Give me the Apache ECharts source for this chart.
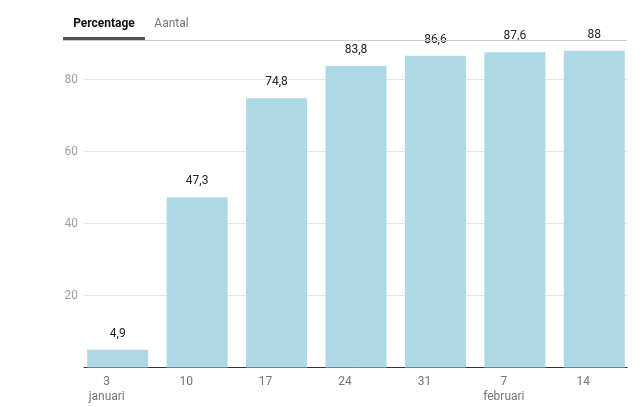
<!DOCTYPE html>
<html><head><meta charset="utf-8">
<script src="https://cdn.jsdelivr.net/npm/echarts@6/dist/echarts.min.js"></script>
<style>html,body{margin:0;padding:0;background:#fff}#c{width:643px;height:407px}</style>
</head><body><div id="c"></div>
<script>
const categories = ['3\njanuari', '10', '17', '24', '31', '7\nfebruari', '14'];
const values = [4.9, 47.3, 74.8, 83.8, 86.6, 87.6, 88];
const yTicks = [0, 20, 40, 60, 80];
const tabs = ['Percentage', 'Aantal'];

const chart = echarts.init(document.getElementById('c'), null, {renderer: 'canvas'});
const font = 'Roboto, "Noto Sans", sans-serif';
chart.setOption({
  animation: false,
  textStyle: {fontFamily: font},
  grid: [
    {left: 84, right: 16, top: 40, bottom: 39.5},
    {left: 78, right: 9, top: 40, bottom: 39.5}
  ],
  xAxis: [
    {gridIndex: 0, type: 'category', data: categories, axisLine: {lineStyle: {color: '#333', width: 1}},
     axisTick: {show: false}, axisLabel: {show: false}},
    {gridIndex: 1, type: 'category', data: categories, axisLine: {show: false}, axisTick: {show: false},
     axisLabel: {color: '#757575', fontSize: 12, fontFamily: font, lineHeight: 15, margin: 7,
       padding: [0, 22, 0, 0]}}
  ],
  yAxis: [
    {gridIndex: 0, type: 'value', min: 0, max: 91, interval: 20,
     axisLine: {show: false}, axisTick: {show: false},
     axisLabel: {color: '#9e9e9e', fontSize: 12, fontFamily: font, margin: 6, showMaxLabel: false,
       formatter: v => (yTicks.indexOf(v) > 0 ? String(v) : '')},
     splitLine: {lineStyle: {color: ['#e6e6e6', '#e6e6e6', '#e6e6e6', '#e6e6e6', '#e6e6e6', 'rgba(0,0,0,0)'], width: 1}}},
    {gridIndex: 1, type: 'value', min: 0, max: 91, interval: 20, show: false, splitLine: {show: false}}
  ],
  series: [{
    type: 'bar', xAxisIndex: 1, yAxisIndex: 1, data: values, barWidth: 61,
    itemStyle: {color: '#add8e6'},
    label: {show: true, position: 'top', distance: 10, color: '#222', fontSize: 12, fontFamily: font,
      formatter: p => String(p.value).replace('.', ',')}
  }],
  graphic: [
    {type: 'rect', shape: {x: 63, y: 40, width: 564, height: 1}, style: {fill: '#cccccc'}, z: 10},
    {type: 'rect', shape: {x: 63, y: 37, width: 82, height: 3}, style: {fill: '#555555'}, z: 11},
    {type: 'text', x: 104, y: 24, style: {text: tabs[0], fill: '#111', font: 'bold 12px ' + font,
      textAlign: 'center', textVerticalAlign: 'middle'}},
    {type: 'text', x: 171.5, y: 24, style: {text: tabs[1], fill: '#757575', font: '12px ' + font,
      textAlign: 'center', textVerticalAlign: 'middle'}}
  ]
});
</script></body></html>
